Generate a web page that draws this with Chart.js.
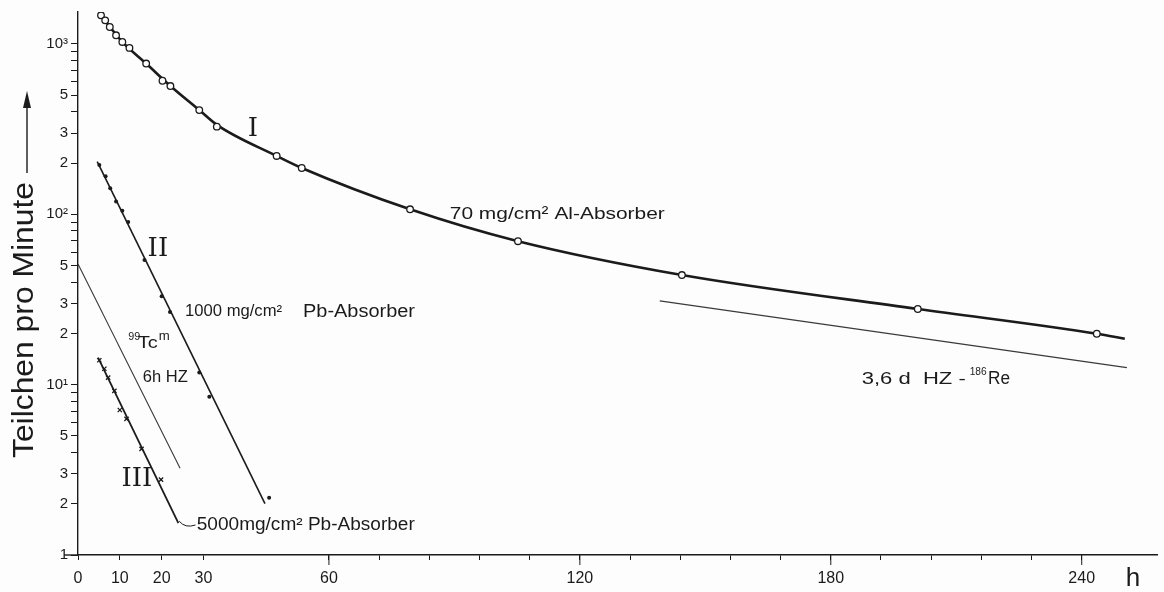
<!DOCTYPE html>
<html>
<head>
<meta charset="utf-8">
<script src="https://cdn.jsdelivr.net/npm/chart.js@4.4.1/dist/chart.umd.min.js"></script>
<style>
  html,body{margin:0;padding:0;background:#fdfdfd;}
  #wrap{width:1164px;height:592px;position:relative;}
  canvas{display:block;}
</style>
</head>
<body>
<div id="wrap"><canvas id="c" width="1164" height="592"></canvas></div>
<script>
// ---- data (hours, counts per minute) ----
const curveIHours   = [5.5, 6.5, 7.6, 9.1, 10.6, 12.3, 16.3, 20.2, 22.1, 29.0, 33.2, 47.5, 53.5, 79.4, 105.2, 144.4, 200.8, 243.6];
const curveIValues  = [1472, 1376, 1257, 1124, 1027, 948, 767, 608, 566, 409, 327, 220, 187, 107, 69.5, 44, 27.8, 19.9];
const fitIHours     = [5.5, 10.6, 16.3, 22.1, 29.0, 33.2, 47.5, 53.5, 79.4, 105.2, 144.4, 200.8, 243.6, 250.3];
const fitIValues    = [1472, 1027, 767, 566, 409, 335, 220, 187, 107, 69.5, 44, 27.8, 19.9, 18.6];

const curveIIHours  = [5.1, 6.6, 7.7, 9.1, 10.6, 12.0, 15.9, 20.0, 22.0, 29.0, 31.4, 45.7];
const curveIIValues = [195, 167, 142, 119, 105, 90, 54, 33, 26.7, 11.8, 8.5, 2.17];
const fitIIHours    = [4.6, 44.7];
const fitIIValues   = [204, 2.0];

const curveIIIHours  = [5.1, 6.3, 7.2, 8.7, 10.0, 11.6, 15.2, 19.85];
const curveIIIValues = [13.9, 12.4, 11.0, 9.2, 7.1, 6.3, 4.2, 2.77];
const fitIIIHours    = [4.8, 24.0];
const fitIIIValues   = [14.4, 1.54];

const tcHours  = [0, 24.4];
const tcValues = [51, 3.23];

const reHours  = [139.1, 250.8];
const reValues = [31.0, 12.6];

const xTickValues = [0, 10, 20, 30, 60, 72, 84, 96, 108, 120, 132, 144, 156, 168, 180, 192, 204, 216, 228, 240];
const xTickLabels = ['0', '10', '20', '30', '60', '', '', '', '', '120', '', '', '', '', '180', '', '', '', '', '240'];
const yTickValues = [1,2,3,4,5,6,7,8,9,10,20,30,40,50,60,70,80,90,100,200,300,400,500,600,700,800,900,1000];
const yTickLabels = ['1','2','3','','5','','','','','10\u00B9','2','3','','5','','','','','10\u00B2','2','3','','5','','','','','10\u00B3'];

const INK = '#1b1b1b';
const FONT = '"Liberation Sans", "DejaVu Sans", sans-serif';

function pts(xs, ys){ return xs.map((x,i)=>({x:x, y:ys[i]})); }

function fitText(ctx, text, x, y, size, width, font){
  ctx.save();
  ctx.font = size + 'px ' + (font || FONT);
  const w = ctx.measureText(text).width;
  ctx.translate(x, y);
  if (width) ctx.scale(width / w, 1);
  ctx.fillText(text, 0, 0);
  ctx.restore();
}

const annotate = {
  id: 'annotate',
  afterDraw(chart){
    const ctx = chart.ctx, xs = chart.scales.x, ys = chart.scales.y;
    const X = v => xs.getPixelForValue(v), Y = v => ys.getPixelForValue(v);
    ctx.save();
    ctx.fillStyle = INK; ctx.strokeStyle = INK;
    ctx.textBaseline = 'middle'; ctx.textAlign = 'left';

    // roman numerals
    const serif = '"DejaVu Serif", "Liberation Serif", serif';
    ctx.textAlign = 'center';
    fitText(ctx, 'I', X(41.8), Y(314), 26, null, serif);
    fitText(ctx, 'II', X(19.1), Y(62.4), 26, null, serif);
    fitText(ctx, 'III', X(14.1), Y(2.78), 26, null, serif);
    ctx.textAlign = 'left';

    fitText(ctx, '70 mg/cm\u00B2 Al-Absorber', X(88.9), Y(100), 17, 215);
    fitText(ctx, '1000 mg/cm\u00B2', X(25.6), Y(26.7), 16, 97);
    fitText(ctx, 'Pb-Absorber', X(53.8), Y(26.7), 18, 112);
    fitText(ctx, '6h HZ', X(15.5), Y(11.0), 17, 45);
    // 99Tc^m
    fitText(ctx, '99', X(12.0), Y(19.0), 11, 12);
    fitText(ctx, 'Tc', X(14.3), Y(17.4), 17, 20);
    fitText(ctx, 'm', X(19.3), Y(19.2), 12, 11);
    fitText(ctx, '5000mg/cm\u00B2 Pb-Absorber', X(28.4), Y(1.50), 18, 218);
    // leader line from curve III end to its label
    ctx.lineWidth = 1;
    ctx.beginPath();
    ctx.moveTo(X(24.2), Y(1.58));
    ctx.quadraticCurveTo(X(25.6), Y(1.43), X(28.1), Y(1.50));
    ctx.stroke();
    // 3,6 d HZ - 186Re
    fitText(ctx, '3,6 d  HZ -', X(187.4), Y(10.8), 17, 104);
    fitText(ctx, '186', X(213.2), Y(11.9), 10, 17);
    fitText(ctx, 'Re', X(217.6), Y(10.8), 18, 22);

    // axis unit
    fitText(ctx, 'h', X(250.5), xs.bottom - 13, 26, null);

    // longer ticks for the labelled hours
    ctx.lineWidth = 1;
    [60, 120, 180, 240].forEach(v => {
      ctx.beginPath(); ctx.moveTo(X(v), xs.top); ctx.lineTo(X(v), xs.top + 10); ctx.stroke();
    });
    // extend x axis a bit to the left of the y axis
    ctx.lineWidth = 1.4;
    ctx.beginPath(); ctx.moveTo(X(0) - 14, Y(1)); ctx.lineTo(X(0), Y(1)); ctx.stroke();

    // y-axis title with arrow
    ctx.save();
    ctx.translate(25, 0);
    ctx.rotate(-Math.PI/2);
    ctx.textAlign = 'left';
    fitText(ctx, 'Teilchen pro Minute', -458, 0, 29, 276);
    ctx.restore();
    ctx.lineWidth = 1.4;
    ctx.beginPath(); ctx.moveTo(27, 173); ctx.lineTo(27, 104); ctx.stroke();
    ctx.beginPath(); ctx.moveTo(27, 91); ctx.lineTo(23, 108); ctx.lineTo(31, 108); ctx.closePath(); ctx.fill();
    ctx.restore();
  }
};

const bg = {
  id: 'bg',
  beforeDraw(chart){
    const ctx = chart.ctx; ctx.save(); ctx.fillStyle = '#fdfdfd';
    ctx.fillRect(0,0,chart.width,chart.height); ctx.restore();
  }
};

new Chart(document.getElementById('c'), {
  type: 'scatter',
  data: {
    datasets: [
      { label: 'I points', data: pts(curveIHours, curveIValues), showLine: false,
        pointStyle: 'circle', pointRadius: 3.3, pointBackgroundColor: '#fdfdfd',
        pointBorderColor: INK, pointBorderWidth: 1.3, order: 0 },
      { label: 'II points', data: pts(curveIIHours, curveIIValues), showLine: false,
        pointStyle: 'circle', pointRadius: 2, pointBackgroundColor: INK,
        pointBorderColor: INK, pointBorderWidth: 0, order: 0 },
      { label: 'III points', data: pts(curveIIIHours, curveIIIValues), showLine: false,
        pointStyle: 'crossRot', pointRadius: 3, pointBorderColor: INK,
        pointBorderWidth: 1.3, order: 0 },
      { label: 'I fit', data: pts(fitIHours, fitIValues), showLine: true, pointRadius: 0,
        borderColor: INK, borderWidth: 2.6, cubicInterpolationMode: 'monotone', order: 1 },
      { label: 'II fit', data: pts(fitIIHours, fitIIValues), showLine: true, pointRadius: 0,
        borderColor: INK, borderWidth: 1.6, order: 1 },
      { label: 'III fit', data: pts(fitIIIHours, fitIIIValues), showLine: true, pointRadius: 0,
        borderColor: INK, borderWidth: 1.8, order: 1 },
      { label: '99Tcm 6h', data: pts(tcHours, tcValues), showLine: true, pointRadius: 0,
        borderColor: '#3a3a3a', borderWidth: 1.1, order: 1 },
      { label: '186Re 3.6d', data: pts(reHours, reValues), showLine: true, pointRadius: 0,
        borderColor: '#3a3a3a', borderWidth: 1.2, order: 1 }
    ]
  },
  options: {
    responsive: false,
    animation: false,
    layout: { padding: { top: 10, right: 7, left: 0, bottom: 0 } },
    plugins: { legend: { display: false }, tooltip: { enabled: false } },
    scales: {
      x: {
        type: 'linear', min: 0, max: 258,
        afterFit(s){ s.height = 37; },
        afterBuildTicks(s){ s.ticks = xTickValues.map(v => ({ value: v })); },
        grid: { drawOnChartArea: false, tickLength: 5, color: INK, tickWidth: 1 },
        border: { display: true, color: INK, width: 1.4 },
        ticks: {
          autoSkip: false, maxRotation: 0, color: INK, padding: 9,
          font: { family: FONT, size: 16 },
          callback: (v, i) => xTickLabels[i]
        }
      },
      y: {
        type: 'logarithmic', min: 1, max: 1540,
        afterFit(s){ s.width = 78; },
        afterBuildTicks(s){ s.ticks = yTickValues.map(v => ({ value: v })); },
        grid: { drawOnChartArea: false, tickLength: 7, color: INK, tickWidth: 1 },
        border: { display: true, color: INK, width: 1.4 },
        ticks: {
          autoSkip: false, color: INK, padding: 3,
          font: { family: FONT, size: 15 },
          callback: (v, i) => yTickLabels[i]
        }
      }
    }
  },
  plugins: [bg, annotate]
});
</script>
</body>
</html>
